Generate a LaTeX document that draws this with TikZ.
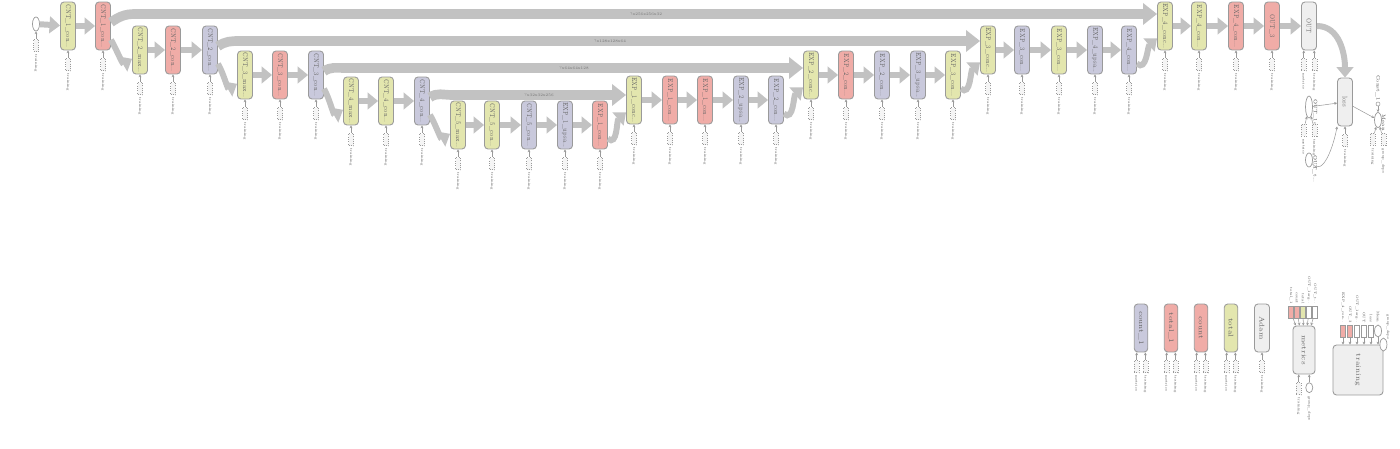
\documentclass[tikz,border=0pt]{standalone}
\usepackage{graphicx}
\usetikzlibrary{arrows.meta,positioning,shapes.geometric}
\definecolor{opyel}{HTML}{E3E6AE}
\definecolor{opred}{HTML}{F0ACA7}
\definecolor{oppur}{HTML}{C9C9DC}
\definecolor{opgry}{HTML}{EFEFEF}
\definecolor{opline}{HTML}{9A9A9A}
\definecolor{edgegry}{HTML}{C2C2C2}
\newcommand{\cut}{.\kern-0.05em.\kern-0.05em.}
\newcommand{\oplab}[1]{\rotatebox{-90}{\scalebox{0.72}[1]{#1}}}

\begin{document}
\begin{tikzpicture}[x=0.02cm, y=-0.02cm,
  font=\fontsize{3.9}{4.5}\selectfont,
  op/.style={draw=opline, line width=0.5pt, rounded corners=2pt, inner sep=0pt,
    minimum width=0.3cm, minimum height=0.96cm, text=black!60},
  trn/.style={draw=opline, densely dotted, line width=0.3pt, fill=opgry!60,
    inner sep=0pt, minimum width=0.1cm, minimum height=0.24cm},
  oval/.style={draw=opline, line width=0.4pt, fill=white, ellipse, inner sep=0pt,
    minimum width=0.14cm, minimum height=0.28cm},
  tlab/.style={font=\fontsize{2}{2}\selectfont, inner sep=0pt, text=black!70},
  nlab/.style={font=\fontsize{2.8}{3}\selectfont, inner sep=0pt, text=black!70},
  flow/.style={draw=edgegry, line width=3.4pt, -{Triangle[length=6pt,width=9.5pt]}},
  skip/.style={draw=edgegry, line width=5.5pt, -{Triangle[length=8pt,width=12pt]}},
  tin/.style={draw=opline, line width=0.3pt, -{Stealth[length=1.6pt,width=1.6pt]}},
  blab/.style={font=\fontsize{2.2}{2.2}\selectfont, text=black!55, inner sep=0.5pt}
]
\useasboundingbox (0,0) rectangle (1400,449);

% input
\node[oval] (inp) at (36,24) {};
\node[trn, below=4.5pt of inp] (inp-t) {};
\draw[tin] (inp-t) -- (inp);
\node[tlab, below=1.5pt of inp-t] {\rotatebox{-90}{training}};

% main chain
\foreach \nm/\x/\y/\st/\lb in {
  c1a/68/26/opyel/CNT\_1\_con\cut, c1b/103/26/opred/CNT\_1\_con\cut,
  c2a/140/50/opyel/CNT\_2\_max\cut, c2b/173/50/opred/CNT\_2\_con\cut, c2c/210/50/oppur/CNT\_2\_con\cut,
  c3a/245/75/opyel/CNT\_3\_max\cut, c3b/280/75/opred/CNT\_3\_con\cut, c3c/316/75/oppur/CNT\_3\_con\cut,
  c4a/351/101/opyel/CNT\_4\_max\cut, c4b/386/101/opyel/CNT\_4\_con\cut, c4c/422/101/oppur/CNT\_4\_con\cut,
  c5a/458/125/opyel/CNT\_5\_max\cut, c5b/492/125/opyel/CNT\_5\_con\cut, c5c/529/125/oppur/CNT\_5\_con\cut,
  e1u/565/125/oppur/EXP\_1\_upsa\cut, e1a/600/125/opred/EXP\_1\_con\cut,
  e1c/634/100/opyel/EXP\_1\_conc\cut, e1b/670/100/opred/EXP\_1\_con\cut, e1d/705/100/opred/EXP\_1\_con\cut,
  e2u/741/100/oppur/EXP\_2\_upsa\cut, e2a/776/100/oppur/EXP\_2\_con\cut,
  e2c/811/75/opyel/EXP\_2\_conc\cut, e2b/846/75/opred/EXP\_2\_con\cut, e2d/882/75/oppur/EXP\_2\_con\cut,
  e3u/918/75/oppur/EXP\_3\_upsa\cut, e3a/953/75/opyel/EXP\_3\_con\cut,
  e3c/988/50/opyel/EXP\_3\_conc\cut, e3b/1022/50/oppur/EXP\_3\_con\cut, e3d/1059/50/opyel/EXP\_3\_con\cut,
  e4u/1095/50/oppur/EXP\_4\_upsa\cut, e4a/1129/50/oppur/EXP\_4\_con\cut,
  e4c/1165/26/opyel/EXP\_4\_conc\cut, e4b/1199/26/opyel/EXP\_4\_con\cut, e4d/1236/26/opred/EXP\_4\_con\cut,
  o3/1272/26/opred/OUT\_3}{
  \node[op, fill=\st] (\nm) at (\x,\y) {\oplab{\lb}};
  \node[trn, below=4.5pt of \nm] (\nm-t) {};
  \draw[tin] (\nm-t) -- (\nm);
  \node[tlab, below=1.5pt of \nm-t] {\rotatebox{-90}{training}};
}

\node[op, fill=opgry] (out) at (1309,26) {\oplab{OUT}};
\node[op, fill=opgry] (loss) at (1345,102) {\oplab{loss}};
\foreach \s/\t in {-1/metrics, 1/training}{
  \node[trn, below=4.5pt of out, xshift=\s*3pt] (out-\t) {};
  \draw[tin] (out-\t) -- (out-\t |- out.south);
  \node[tlab, below=1.5pt of out-\t] {\rotatebox{-90}{\t}};
}
\node[trn, below=4.5pt of loss] (loss-t) {};
\draw[tin] (loss-t) -- (loss);
\node[tlab, below=1.5pt of loss-t] {\rotatebox{-90}{training}};

% flows
\foreach \a/\b in {inp/c1a, c1a/c1b, c2a/c2b, c2b/c2c, c3a/c3b, c3b/c3c, c4a/c4b, c4b/c4c,
  c5a/c5b, c5b/c5c, c5c/e1u, e1u/e1a, e1c/e1b, e1b/e1d, e1d/e2u, e2u/e2a, e2c/e2b, e2b/e2d,
  e2d/e3u, e3u/e3a, e3c/e3b, e3b/e3d, e3d/e4u, e4u/e4a, e4c/e4b, e4b/e4d, e4d/o3, o3/out}
  \draw[flow] (\a) -- (\b);
\foreach \a/\b in {c1b/c2a, c2c/c3a, c3c/c4a, c4c/c5a}
  \draw[flow] (\a.-60) to[out=-60,in=210] ([yshift=-5pt]\b.west);
\foreach \a/\b in {e1a/e1c, e2a/e2c, e3a/e3c, e4a/e4c}
  \draw[flow] (\a.-60) to[out=-40,in=220] ([yshift=-7pt]\b.west);
\draw[flow] (out.east) to[out=0,in=90] (loss.north);

% skip connections
\foreach \a/\b/\xx/\yy/\lb in {c1b/e4c/135/14/?x256x256x32, c2c/e3c/240/41/?x128x128x64,
  c3c/e2c/345/68/?x64x64x128, c4c/e1c/452/95/?x32x32x256}{
  \coordinate (k-\a) at (\xx,\yy);
  \draw[skip] (\a.25) to[out=35,in=180] (k-\a) -- node[blab] {\lb} (k-\a -| \b.west);
}

% loss inputs and mean
\node[oval, minimum height=0.44cm] (argx) at (1309,107) {};
\node[nlab, anchor=north west, xshift=0.5pt] at (argx.north east) {\rotatebox{-90}{OUT\_1arg\cut}};
\foreach \s/\t in {-1/metrics, 1/training}{
  \node[trn, below=3pt of argx, xshift=\s*3pt] (argx-\t) {};
  \draw[tin] (argx-\t) -- (argx);
  \node[tlab, below=1.5pt of argx-\t] {\rotatebox{-90}{\t}};
}
\node[oval] (otgt) at (1309,160) {};
\node[nlab, anchor=north west, xshift=0.5pt] at (otgt.north east) {\rotatebox{-90}{OUT\_t\cut}};
\draw[tin] (argx) -- (loss);
\draw[tin] (otgt) to[out=-50,in=-100] (loss.south west);

\node[oval, minimum height=0.3cm] (mean) at (1378,120) {};
\node[nlab, anchor=north west, xshift=0.5pt] at (mean.north east) {\rotatebox{-90}{Mean}};
\node[circle, draw=opline, line width=0.3pt, minimum size=0.08cm, inner sep=0pt] (cst) at (1378,104) {};
\node[nlab, above=0.5pt of cst] {\rotatebox{-90}{Const\_1}};
\draw[tin] (cst) -- (mean);
\draw[tin] (loss) -- (mean);
\foreach \s/\t in {-1/training, 1/group\_deps}{
  \node[trn, below=3pt of mean, xshift=\s*3pt] (mean-\s) {};
  \draw[tin] (mean-\s) -- (mean);
  \node[tlab, below=1.5pt of mean-\s] {\rotatebox{-90}{\t}};
}

% metric variables
\foreach \nm/\x/\st/\lb in {cnt1/1141/oppur/count\_1, tot1/1171/opred/total\_1,
  cnt/1201/opred/count, tot/1231/opyel/total}{
  \node[op, fill=\st, minimum width=0.27cm] (\nm) at (\x,328) {\rotatebox{-90}{\lb}};
  \foreach \s/\t in {-1/metrics, 1/training}{
    \node[trn, below=4.5pt of \nm, xshift=\s*2.5pt] (\nm-\t) {};
    \draw[tin] (\nm-\t) -- (\nm-\t |- \nm.south);
    \node[tlab, below=1.5pt of \nm-\t] {\rotatebox{-90}{\t}};
  }
}
\node[op, fill=opgry] (adam) at (1262,328) {\rotatebox{-90}{Adam}};
\node[trn, below=4.5pt of adam] (adam-t) {};
\draw[tin] (adam-t) -- (adam);
\node[tlab, below=1.5pt of adam-t] {\rotatebox{-90}{training}};

% metrics
\node[op, fill=opgry, minimum width=0.44cm] (met) at (1304,350) {\rotatebox{-90}{metrics}};
\foreach \i/\x/\st/\lb in {1/1291/opred/total\_1, 2/1297/opred/count, 3/1303/opyel/total,
  4/1309/white/OUT\_1arg\cut, 5/1315/white/OUT\_t\cut}{
  \node[trn, solid, fill=\st] (mi\i) at (\x,312) {};
  \draw[tin] (mi\i) -- (met);
  \node[tlab, above=1pt of mi\i] {\rotatebox{-90}{\lb}};
}
\node[trn, below=4.5pt of met, xshift=-3pt] (met-t) {};
\node[oval, minimum height=0.2cm, below=4.5pt of met, xshift=3pt] (met-g) {};
\draw[tin] (met-t) -- (met-t |- met.south);
\draw[tin] (met-g) -- (met-g |- met.south);
\node[tlab, below=1.5pt of met-t] {\rotatebox{-90}{training}};
\node[tlab, below=1.5pt of met-g] {\rotatebox{-90}{group\_deps}};

% training
\node[op, fill=opgry, minimum width=1cm, minimum height=1cm] (trg) at (1358,370) {\rotatebox{-90}{training}};
\foreach \i/\x/\st/\lb in {1/1343/opred/EXP\_4\_con\cut, 2/1350/opred/OUT\_3, 3/1357/white/OUT\_1arg\cut,
  4/1364/white/OUT, 5/1371/white/loss}{
  \node[trn, solid, fill=\st] (ti\i) at (\x,331) {};
  \draw[tin] (ti\i) -- (ti\i |- trg.north);
  \node[tlab, above=1pt of ti\i] {\rotatebox{-90}{\lb}};
}
\node[oval, minimum height=0.24cm] (ti6) at (1378,331) {};
\draw[tin] (ti6) -- (ti6 |- trg.north);
\node[tlab, above=1pt of ti6] {\rotatebox{-90}{Mean}};
\node[oval, minimum height=0.26cm] (trg-g) at (trg.north east) {};
\node[tlab, anchor=south west] at (trg-g.north east) {\rotatebox{-90}{group\_deps}};
\end{tikzpicture}
\end{document}
